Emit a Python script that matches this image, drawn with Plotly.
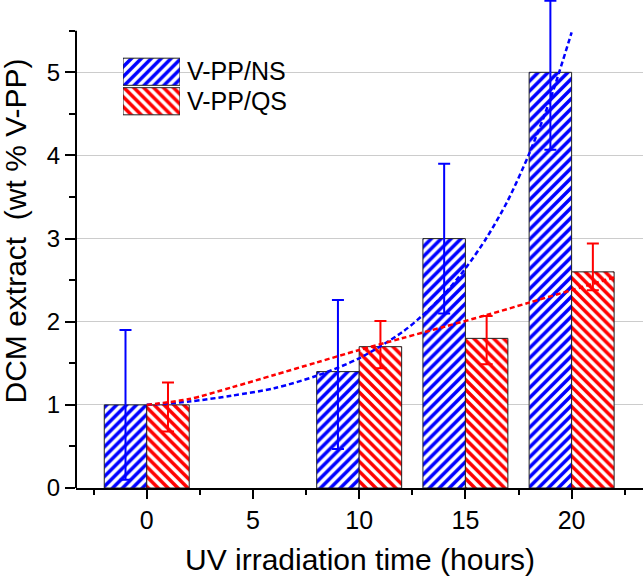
import plotly.graph_objects as go

# ---------------- data ----------------
time_h = [0, 10, 15, 20]
ns_values = [1.0, 1.4, 3.0, 5.0]
ns_err_plus = [0.9, 0.86, 0.9, 0.86]
ns_err_minus = [0.9, 0.93, 0.9, 0.93]
qs_values = [1.0, 1.7, 1.8, 2.6]
qs_err_plus = [0.27, 0.31, 0.27, 0.34]
qs_err_minus = [0.32, 0.26, 0.31, 0.22]

# dashed fit curves
ns_fit_x = [0, 2, 4, 6, 8, 10, 12, 13, 14, 15, 16, 17, 18, 19, 20]
ns_fit_y = [1.00, 1.04, 1.11, 1.20, 1.35, 1.56, 1.87, 2.08, 2.33, 2.64, 3.01, 3.46, 4.02, 4.68, 5.48]
qs_fit_x = [0, 2, 4, 6, 8, 10, 12, 14, 16, 18, 20, 22.1]
qs_fit_y = [1.00, 1.07, 1.21, 1.36, 1.51, 1.66, 1.80, 1.94, 2.08, 2.23, 2.38, 2.54]

series_names = ["V-PP/NS", "V-PP/QS"]
legend_swatch_len = [1]
y_axis_top = 5.5

BLUE = "#0000ff"
RED = "#ff0000"
FONT = "Liberation Sans, Arial, sans-serif"


def hatch(shape, color):
    return dict(color=color, opacity=1, line=dict(color="#222222", width=1),
                pattern=dict(shape=shape, fgcolor=color, bgcolor="white", size=7,
                             solidity=0.5, fillmode="replace", fgopacity=1))


fig = go.Figure()

fig.add_trace(go.Bar(
    x=time_h, y=ns_values, offset=-2, width=2, marker=hatch("/", BLUE),
    error_y=dict(type="data", symmetric=False, array=ns_err_plus, arrayminus=ns_err_minus,
                 color=BLUE, thickness=2, width=6),
    showlegend=False, name=series_names[0]))

fig.add_trace(go.Bar(
    x=time_h, y=qs_values, offset=0, width=2, marker=hatch("\\", RED),
    error_y=dict(type="data", symmetric=False, array=qs_err_plus, arrayminus=qs_err_minus,
                 color=RED, thickness=2, width=6),
    showlegend=False, name=series_names[1]))

fig.add_trace(go.Scatter(
    x=ns_fit_x, y=ns_fit_y, mode="lines",
    line=dict(color=BLUE, width=2.5, dash="5px,3px", shape="spline", smoothing=0.8),
    showlegend=False, hoverinfo="skip"))
fig.add_trace(go.Scatter(
    x=qs_fit_x, y=qs_fit_y, mode="lines",
    line=dict(color=RED, width=2.5, dash="5px,3px", shape="spline", smoothing=0.8),
    showlegend=False, hoverinfo="skip"))

# legend swatches drawn as an inset bar chart; labels are the inset's tick labels
fig.add_trace(go.Bar(
    x=legend_swatch_len, y=[series_names[0]], orientation="h", width=0.92,
    xaxis="x2", yaxis="y2", marker=hatch("/", BLUE), showlegend=False, hoverinfo="skip"))
fig.add_trace(go.Bar(
    x=legend_swatch_len, y=[series_names[1]], orientation="h", width=0.92,
    xaxis="x2", yaxis="y2", marker=hatch("\\", RED), showlegend=False, hoverinfo="skip"))

fig.update_layout(
    width=644, height=577,
    margin=dict(l=76, r=1, t=0, b=89, autoexpand=False),
    paper_bgcolor="white", plot_bgcolor="white",
    barmode="overlay",
    font=dict(family=FONT, color="black"),
    xaxis=dict(
        range=[-3.33, 23.36], tick0=0, dtick=5,
        ticks="outside", ticklen=9, tickwidth=2, tickcolor="black",
        minor=dict(dtick=2.5, ticks="outside", ticklen=5, tickwidth=2, tickcolor="black"),
        showgrid=False, zeroline=False,
        showline=True, linecolor="black", linewidth=2,
        tickfont=dict(size=25, family=FONT, color="black"),
        automargin=False,
    ),
    yaxis=dict(
        range=[0, 5.87], tick0=0, dtick=1,
        ticks="outside", ticklen=10, tickwidth=2, tickcolor="black",
        minor=dict(dtick=0.5, ticks="outside", ticklen=6, tickwidth=2, tickcolor="black"),
        showgrid=True, gridcolor="#cccccc", gridwidth=1,
        zeroline=False, showline=False,
        tickvals=[0, 1, 2, 3, 4, 5],
        tickfont=dict(size=24, family=FONT, color="black"),
        automargin=False,
    ),
    xaxis2=dict(domain=[0.0829, 0.1834], anchor="y2", range=[0, 1], visible=False,
                fixedrange=True, automargin=False),
    yaxis2=dict(domain=[0.7623, 0.8832], anchor="x2", side="right", range=[-0.5, 1.5],
                type="category", categoryorder="array",
                categoryarray=[series_names[1], series_names[0]],
                tickmode="array", tickvals=[series_names[1], series_names[0]],
                ticktext=[series_names[1], series_names[0]],
                showgrid=False, zeroline=False, showline=False, ticks="",
                ticklabelstandoff=6, automargin=False,
                tickfont=dict(size=25, family=FONT, color="black"), fixedrange=True),
    shapes=[dict(type="line", xref="paper", yref="y", x0=0, x1=0, y0=0, y1=y_axis_top,
                 line=dict(color="black", width=2), layer="above")],
    annotations=[
        dict(text="DCM extract\u00a0 (wt % V-PP)", textangle=-90,
             xref="paper", yref="paper", x=0, y=0.5256, xshift=-60,
             xanchor="center", yanchor="middle", showarrow=False,
             font=dict(size=30, family=FONT, color="black")),
        dict(text="UV irradiation time (hours)",
             xref="paper", yref="paper", x=0.5, y=-0.1475,
             xanchor="center", yanchor="middle", showarrow=False,
             font=dict(size=30, family=FONT, color="black")),
    ],
)

fig.write_html("out.html", config={"displayModeBar": False},
               post_script="document.body.style.margin='0';")
